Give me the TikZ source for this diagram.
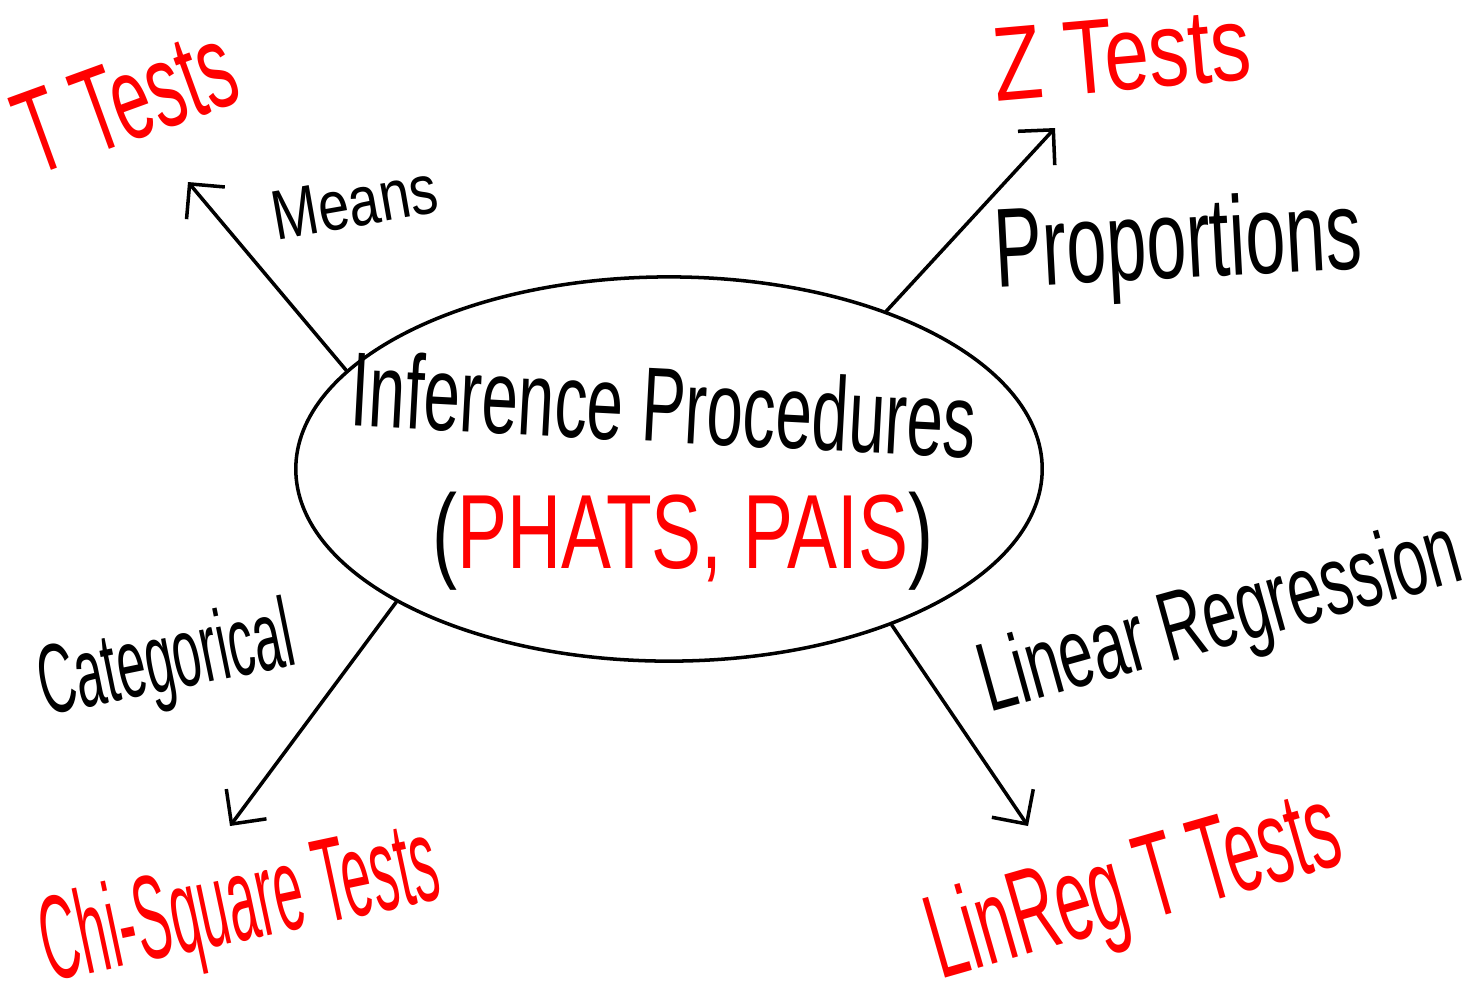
\documentclass[tikz,border=0pt]{standalone}
\usepackage{fontspec}
\setmainfont{Liberation Sans}
\usetikzlibrary{shapes,arrows.meta}
\tikzset{%
	bubble/.style  = {draw, line width=1pt, ellipse, minimum width=7.46cm, minimum height=3.84cm, inner sep=0pt}, % Centre
	word/.style    = {black, anchor=base, inner sep=0pt}, % Branch label
	test/.style    = {red, anchor=base, inner sep=0pt}, % Test name
	pointer/.style = {-{Straight Barb[length=2.5mm, width=5mm]}, line width=1pt} % Branch arrow
}
\newcommand{\fsz}[1]{\fontsize{#1pt}{#1pt}\selectfont}

\begin{document}
\begin{tikzpicture}[x=0.01cm, y=-0.01cm, line cap=round, line join=round]
	\useasboundingbox (0,0) rectangle (1473,1005);
	\draw % Drawing the centre and the texts
	node at (669,469) [bubble] (ell) {}
	node at (662,442) [word, rotate=-3, xscale=0.62, font=\fsz{30}] (inf) {Inference Procedures}
	node at (683,568) [word, xscale=0.71, font=\fsz{30}] (phats) {(\textcolor{red}{PHATS, PAIS})}
	node at (140,138) [test, rotate=20, xscale=0.58, font=\fsz{34}] (ttest) {T Tests}
	node at (359,226) [word, rotate=10, xscale=0.79, font=\fsz{20}] (means) {Means}
	node at (1125,90) [test, rotate=5, xscale=0.76, font=\fsz{30}] (ztest) {Z Tests}
	node at (1180,278) [word, rotate=3, xscale=0.64, font=\fsz{32}] (prop) {Proportions}
	node at (172,690) [word, rotate=11.5, xscale=0.52, font=\fsz{28}] (cat) {Categorical}
	node at (247,940) [test, rotate=12, xscale=0.44, font=\fsz{34}] (chi) {Chi-Square Tests}
	node at (1228,646) [word, rotate=15.5, xscale=0.62, font=\fsz{28}] (linreg) {Linear Regression}
	node at (1144,921) [test, rotate=16, xscale=0.53, font=\fsz{34}] (lrt) {LinReg T Tests}
	;
	\coordinate (meanstip) at (188,182);
	\coordinate (ztip) at (1055,128);
	\coordinate (cattip) at (230,826);
	\coordinate (lintip) at (1028,826);

	% Drawing the arrows
	\draw[pointer] (ell.163) -- (meanstip);
	\draw[pointer] (ell.36) -- (ztip);
	\draw[pointer] (ell.206) -- (cattip);
	\draw[pointer] (ell.-35) -- (lintip);
\end{tikzpicture}
\end{document}
